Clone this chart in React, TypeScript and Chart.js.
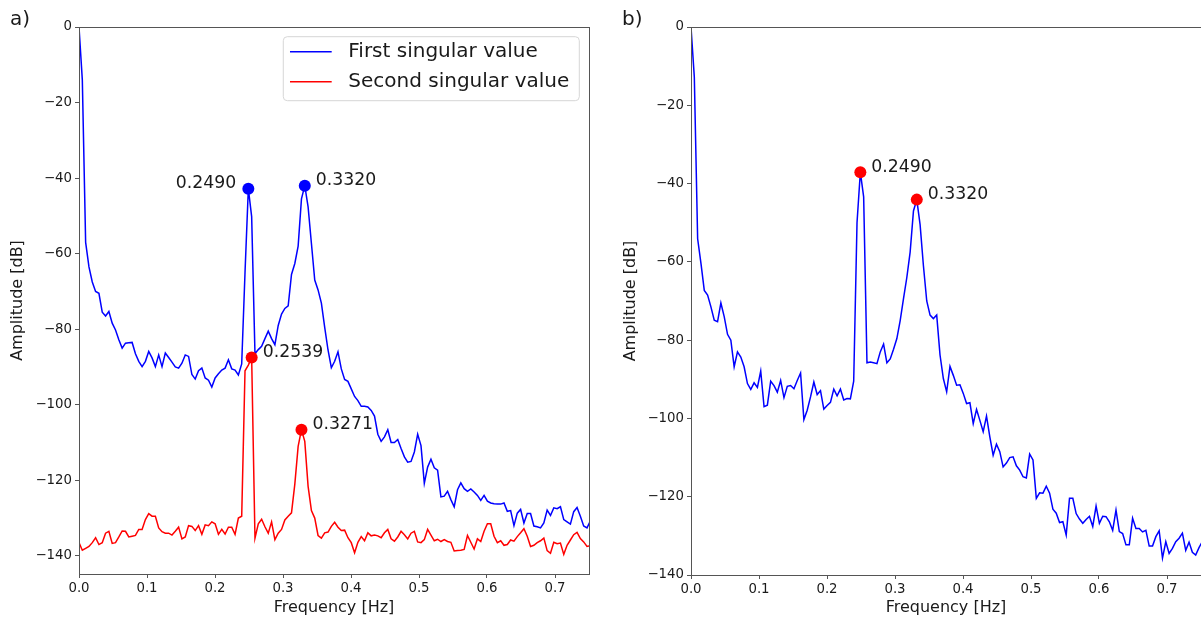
import React, { useEffect, useRef } from "react";
import { Chart, registerables } from "chart.js";

Chart.register(...registerables);

// ---------- data ----------
const FREQ_STEP_HZ = 5 / 1024;

const X_TICKS = [0, 0.1, 0.2, 0.3, 0.4, 0.5, 0.6, 0.7];
const Y_TICKS = [0, -20, -40, -60, -80, -100, -120, -140];

// panel a) first singular value [dB], one value per frequency bin
const FIRST_SV_A = [
  0, -14, -57, -63.5, -67.5, -70, -70.5, -75.5, -76.5, -75.3,
  -78.4, -80.2, -82.8, -85.0, -83.7, -83.6, -83.5, -86.5, -88.5, -89.9,
  -88.5, -85.9, -87.6, -89.9, -86.8, -89.9, -86.3, -87.5, -88.7, -90,
  -90.3, -89, -86.8, -87.2, -92, -93.2, -91, -90.3, -92.9, -93.5,
  -95.3, -92.9, -91.8, -90.8, -90.3, -88.1, -90.5, -90.8, -92.1, -89.2,
  -65, -42.8, -50.2, -86.5, -85.4, -84.5, -82.5, -80.5, -82.5, -84.1,
  -79, -76, -74.5, -73.8, -65.5, -62.6, -58, -45.5, -42.0, -47.6,
  -57.3, -67, -69.6, -73.1, -79.5, -85.5, -90.2, -88.5, -86, -90.5,
  -93.3, -93.8, -95.8, -97.8, -98.9, -100.4, -100.4, -100.6, -101.5, -103,
  -107.8, -109.7, -108.5, -106.6, -110, -110, -109.2, -111.6, -113.8, -115.2,
  -115, -112.5, -107.8, -110.8, -120.8, -116.5, -114.4, -116.7, -117.3, -124.4,
  -124.2, -122.9, -125.1, -127, -122.5, -120.7, -122.2, -122.9, -122.3, -123.1,
  -124, -125.3, -124, -125.5, -126, -126.2, -126.3, -126.3, -126, -128.2,
  -128, -132, -128.7, -127.7, -131.3, -128.8, -128.8, -132.1, -132.3, -132.6,
  -131.3, -127.9, -129.3, -127.3, -127.5, -127, -130.4, -131, -131.6, -128.3,
  -127.2, -129.5, -132.1, -132.6, -130.8,
];

// panel a) second singular value [dB]
const SECOND_SV_A = [
  -136.5, -138.5, -138, -137.5, -136.5, -135.2, -137, -136.5, -134, -133.5,
  -136.7, -136.5, -135, -133.4, -133.5, -135, -134.8, -134.6, -133, -133,
  -130.4, -128.8, -129.5, -129.5, -132.6, -133.6, -134, -134, -134.5, -133.5,
  -132.4, -135.5, -135, -132, -132.2, -133.3, -132, -134.3, -131.8, -132,
  -131, -131.5, -134.3, -133, -134.2, -132.4, -132.4, -134.3, -130, -129.5,
  -91, -89.5, -87.5, -135.3, -131.5, -130.3, -132.3, -134, -131, -135.7,
  -134, -133, -130.5, -129.5, -128.6, -121, -111, -106.6, -109.7, -121.6,
  -128, -130, -134.6, -135.3, -133.9, -133.7, -132.2, -131.1, -132.4, -133.3,
  -133.2, -135.2, -136.5, -139.2, -136.4, -134.9, -136, -133.9, -134.7, -134.5,
  -134.7, -135.2, -133.9, -133, -135.5, -136.1, -135, -133.5, -134.4, -135.5,
  -134, -133.5, -136.3, -136.5, -135.7, -133, -134.5, -136, -135.6, -136.2,
  -135.7, -136.2, -136.4, -138.7, -138.6, -138.5, -138.3, -134.6, -136.4, -138.2,
  -135.5, -136.2, -133.5, -131.5, -131.5, -134.8, -136.5, -136, -137.2, -137,
  -135.8, -136.1, -134.9, -133.9, -132.8, -134.8, -137.5, -137.2, -136.5, -136,
  -135.3, -138.6, -139.3, -136.4, -136.8, -136.6, -139.6, -137.2, -135.8, -134.4,
  -133.8, -135.4, -136.3, -137.5, -137.3,
];

// panel b) first singular value [dB]
const FIRST_SV_B = [
  0, -12.8, -54.1, -60.4, -67.3, -68.5, -71.5, -74.9, -75.3, -70.5,
  -74, -78.5, -80, -86.8, -83, -84.3, -86.8, -91.1, -92.6, -90.9,
  -92.1, -87.9, -97, -96.6, -90.5, -91.6, -93.3, -90.3, -94.7, -91.8,
  -91.6, -92.4, -90.3, -88.4, -100.3, -97.9, -94.5, -90.7, -93.9, -92.9,
  -97.6, -96.7, -95.9, -92.5, -94.2, -92.5, -95.3, -94.9, -95, -90.5,
  -50, -37.1, -43.4, -85.8, -85.6, -85.8, -86, -83, -81, -85.8,
  -84.8, -82.3, -79.6, -75, -69.4, -64, -57.5, -47, -44.1, -50.5,
  -61, -70, -73.6, -74.5, -73.6, -83.8, -89.8, -93.2, -86.7, -89,
  -91.5, -91.4, -93.6, -96.2, -96, -101.3, -97.7, -100.5, -103.4, -99.4,
  -104.7, -109.4, -106.6, -108.5, -112.4, -111.4, -110, -109.8, -112.1, -113.2,
  -114.9, -115.2, -109.1, -110.6, -120.4, -119, -119.1, -117.3, -119.1, -123.2,
  -124.2, -126.6, -126.4, -129.8, -120.4, -120.4, -124.3, -125.7, -126.8, -125.8,
  -125, -127.6, -122.4, -126.8, -125, -125.1, -126.4, -128.6, -123.4, -128.9,
  -129.4, -132.3, -132.3, -125.5, -128.1, -128.1, -129, -128.6, -132.6, -132.6,
  -130.2, -128.7, -135.7, -131.5, -134.5, -133.2, -131.5, -130.6, -129.3, -133.7,
  -131.6, -134.2, -134.9, -133, -131.5,
];

// peak bins (index into the series above)
const PEAK_BINS_A_FIRST = [51, 68];
const PEAK_BINS_A_SECOND = [52, 67];
const PEAK_BINS_B = [51, 68];

const LEGEND_LABELS = ["First singular value", "Second singular value"];

// ---------- styles ----------
const FONT = "DejaVu Sans";
const TEXT = "#1a1a1a";
const SPINE = "#555555";
const BLUE = "#0000ff";
const RED = "#ff0000";
const H = 619;

type Annot = { x: number; y: number; text: string; side: "left" | "right" };

const toPoints = (vals: number[]) =>
  vals.map((v, k) => ({ x: k * FREQ_STEP_HZ, y: v }));

const peakPoints = (bins: number[], series: number[]) =>
  bins.map((b) => ({ x: b * FREQ_STEP_HZ, y: series[b] }));

const peakAnnots = (bins: number[], series: number[], sides: ("left" | "right")[]): Annot[] =>
  bins.map((b, i) => ({
    x: b * FREQ_STEP_HZ,
    y: series[b],
    text: (b * FREQ_STEP_HZ).toFixed(4),
    side: sides[i],
  }));

const fmtY = (v: number) => (v < 0 ? "\u2212" + Math.abs(v) : String(v));

const decorPlugin = {
  id: "decor",
  afterDatasetsDraw(chart: any, _args: any, opts: any) {
    const { ctx, chartArea } = chart;
    const xs = chart.scales.x;
    const ys = chart.scales.y;
    ctx.save();
    // frame
    ctx.strokeStyle = SPINE;
    ctx.lineWidth = 1;
    ctx.strokeRect(
      Math.round(chartArea.left) + 0.5,
      Math.round(chartArea.top) + 0.5,
      Math.round(chartArea.right) - Math.round(chartArea.left),
      Math.round(chartArea.bottom) - Math.round(chartArea.top)
    );
    // annotations
    ctx.font = `17.3px "${FONT}"`;
    ctx.fillStyle = TEXT;
    ctx.textBaseline = "middle";
    (opts.annots || []).forEach((a: Annot) => {
      const px = xs.getPixelForValue(a.x);
      const py = ys.getPixelForValue(a.y);
      if (a.side === "left") {
        ctx.textAlign = "right";
        ctx.fillText(a.text, px - 12, py - 5);
      } else {
        ctx.textAlign = "left";
        ctx.fillText(a.text, px + 11, py - 5);
      }
    });
    ctx.restore();
  },
  afterDraw(chart: any, _args: any, opts: any) {
    const { ctx, chartArea } = chart;
    ctx.save();
    // panel letter
    ctx.font = `20px "${FONT}"`;
    ctx.fillStyle = TEXT;
    ctx.textBaseline = "middle";
    ctx.textAlign = "left";
    ctx.fillText(opts.letter, opts.letterX, 20);
    // legend
    if (opts.legend) {
      const items = opts.legend as { label: string; color: string }[];
      ctx.font = `20px "${FONT}"`;
      const tw = Math.max(...items.map((i) => ctx.measureText(i.label).width));
      const right = chartArea.right - 9.7;
      const top = chartArea.top + 9.7;
      const w = 6.7 + 41.7 + 16.6 + tw + 10;
      const left = right - w;
      const hgt = 64;
      const r = 4;
      ctx.beginPath();
      ctx.moveTo(left + r, top);
      ctx.lineTo(right - r, top);
      ctx.arcTo(right, top, right, top + r, r);
      ctx.lineTo(right, top + hgt - r);
      ctx.arcTo(right, top + hgt, right - r, top + hgt, r);
      ctx.lineTo(left + r, top + hgt);
      ctx.arcTo(left, top + hgt, left, top + hgt - r, r);
      ctx.lineTo(left, top + r);
      ctx.arcTo(left, top, left + r, top, r);
      ctx.closePath();
      ctx.fillStyle = "rgba(255,255,255,0.8)";
      ctx.fill();
      ctx.strokeStyle = "#d6d6d6";
      ctx.lineWidth = 1;
      ctx.stroke();
      items.forEach((it, i) => {
        const y = top + 15 + i * 30;
        ctx.strokeStyle = it.color;
        ctx.lineWidth = 1.5;
        ctx.beginPath();
        ctx.moveTo(left + 6.7, y);
        ctx.lineTo(left + 6.7 + 41.7, y);
        ctx.stroke();
        ctx.fillStyle = TEXT;
        ctx.textAlign = "left";
        ctx.textBaseline = "middle";
        ctx.fillText(it.label, left + 6.7 + 41.7 + 16.6, y);
      });
    }
    ctx.restore();
  },
};

type PanelSpec = {
  width: number;
  padding: { top: number; right: number; bottom: number; left: number };
  yAxisWidth: number;
  xAxisHeight: number;
  yMin: number;
  yTitlePad: number;
  lines: { data: number[]; color: string }[];
  markers: { bins: number[]; series: number[]; color: string }[];
  annots: Annot[];
  letter: string;
  letterX: number;
  legend?: { label: string; color: string }[];
};

function buildConfig(spec: PanelSpec): any {
  const tickFont = { family: FONT, size: 13.3 };
  const titleFont = { family: FONT, size: 16 };
  const datasets: any[] = [];
  spec.lines.forEach((l) =>
    datasets.push({
      data: toPoints(l.data),
      borderColor: l.color,
      borderWidth: 1.5,
      pointRadius: 0,
      fill: false,
      tension: 0,
      order: 2,
    })
  );
  spec.markers.forEach((m) =>
    datasets.push({
      data: peakPoints(m.bins, m.series),
      showLine: false,
      pointRadius: 6,
      pointBorderWidth: 0,
      pointBackgroundColor: m.color,
      borderColor: m.color,
      clip: false,
      order: 1,
    })
  );
  return {
    type: "line",
    data: { datasets },
    options: {
      animation: false,
      responsive: false,
      maintainAspectRatio: false,
      events: [],
      layout: { padding: spec.padding },
      plugins: {
        legend: { display: false },
        tooltip: { enabled: false },
        decor: {
          annots: spec.annots,
          letter: spec.letter,
          letterX: spec.letterX,
          legend: spec.legend,
        },
      },
      scales: {
        x: {
          type: "linear",
          min: 0,
          max: 0.75,
          afterBuildTicks: (s: any) => {
            s.ticks = X_TICKS.map((v) => ({ value: v }));
          },
          afterFit: (s: any) => {
            s.height = spec.xAxisHeight;
          },
          ticks: {
            callback: (v: number) => v.toFixed(1),
            font: tickFont,
            color: TEXT,
            padding: 3,
            maxRotation: 0,
            autoSkip: false,
          },
          grid: { drawOnChartArea: false, drawTicks: true, tickLength: 4, color: SPINE },
          border: { display: false },
          title: {
            display: true,
            text: "Frequency [Hz]",
            font: titleFont,
            color: TEXT,
            padding: { top: 0, bottom: 2 },
          },
        },
        y: {
          type: "linear",
          min: spec.yMin,
          max: 0,
          afterBuildTicks: (s: any) => {
            s.ticks = Y_TICKS.map((v) => ({ value: v }));
          },
          afterFit: (s: any) => {
            s.width = spec.yAxisWidth;
          },
          ticks: {
            callback: (v: number) => fmtY(v),
            font: tickFont,
            color: TEXT,
            padding: 3,
            autoSkip: false,
          },
          grid: { drawOnChartArea: false, drawTicks: true, tickLength: 4, color: SPINE },
          border: { display: false },
          title: {
            display: true,
            text: "Amplitude [dB]",
            font: titleFont,
            color: TEXT,
            padding: { top: spec.yTitlePad, bottom: 0 },
          },
        },
      },
    },
    plugins: [decorPlugin],
  };
}

function Panel({ spec, left }: { spec: PanelSpec; left: number }) {
  const ref = useRef<HTMLCanvasElement>(null);
  useEffect(() => {
    const chart = new Chart(ref.current as HTMLCanvasElement, buildConfig(spec));
    return () => chart.destroy();
  }, []);
  return (
    <canvas
      ref={ref}
      width={spec.width}
      height={H}
      style={{ position: "absolute", left, top: 0, width: spec.width, height: H }}
    />
  );
}

const panelA: PanelSpec = {
  width: 600,
  padding: { top: 27, right: 11, bottom: 0, left: 0 },
  yAxisWidth: 79,
  xAxisHeight: 45,
  yMin: -144.8,
  yTitlePad: 8,
  lines: [
    { data: FIRST_SV_A, color: BLUE },
    { data: SECOND_SV_A, color: RED },
  ],
  markers: [
    { bins: PEAK_BINS_A_FIRST, series: FIRST_SV_A, color: BLUE },
    { bins: PEAK_BINS_A_SECOND, series: SECOND_SV_A, color: RED },
  ],
  annots: [
    ...peakAnnots(PEAK_BINS_A_FIRST, FIRST_SV_A, ["left", "right"]),
    ...peakAnnots(PEAK_BINS_A_SECOND, SECOND_SV_A, ["right", "right"]),
  ],
  letter: "a)",
  letterX: 10,
  legend: [
    { label: LEGEND_LABELS[0], color: BLUE },
    { label: LEGEND_LABELS[1], color: RED },
  ],
};

const panelB: PanelSpec = {
  width: 615,
  padding: { top: 27, right: 14, bottom: 0, left: 0 },
  yAxisWidth: 91,
  xAxisHeight: 44,
  yMin: -140,
  yTitlePad: 21,
  lines: [{ data: FIRST_SV_B, color: BLUE }],
  markers: [{ bins: PEAK_BINS_B, series: FIRST_SV_B, color: RED }],
  annots: peakAnnots(PEAK_BINS_B, FIRST_SV_B, ["right", "right"]),
  letter: "b)",
  letterX: 22,
};

export default function App() {
  return (
    <div
      style={{
        position: "absolute",
        left: 0,
        top: 0,
        width: 1201,
        height: H,
        overflow: "hidden",
        background: "#ffffff",
      }}
    >
      <Panel spec={panelA} left={0} />
      <Panel spec={panelB} left={600} />
    </div>
  );
}
